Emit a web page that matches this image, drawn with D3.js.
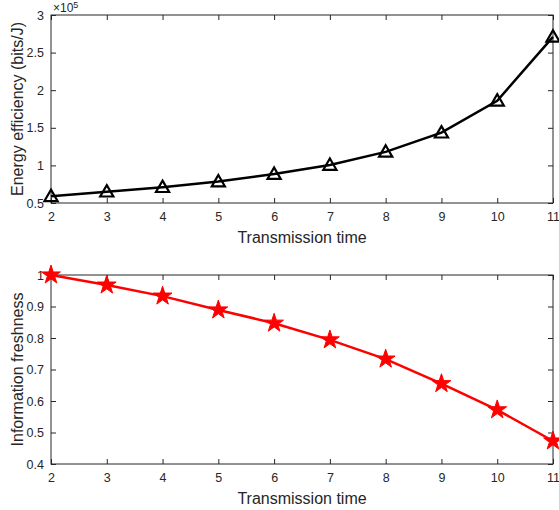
<!DOCTYPE html>
<html>
  <head>
    <script src="https://d3js.org/d3.v7.min.js"></script>
    <style>
      body { margin: 0; background: #fff; }
      svg { display: block; font-family: "Liberation Sans", Arial, sans-serif; }
      .tick text { fill: #262626; font-size: 12.5px; }
      .lbl { fill: #262626; font-size: 16px; }
    </style>
  </head>
  <body>
    <svg id="chart" width="559" height="510"></svg>
    <script>
      // data
      const times = [2, 3, 4, 5, 6, 7, 8, 9, 10, 11];
      const energy = [0.59, 0.65, 0.71, 0.785, 0.885, 1.005, 1.18, 1.435, 1.86, 2.71]; // x 1e5 bits/J
      const freshness = [1.0, 0.968, 0.933, 0.889, 0.847, 0.794, 0.733, 0.655, 0.572, 0.473];
      const energyTicks = [0.5, 1, 1.5, 2, 2.5, 3];
      const freshTicks = [0.4, 0.5, 0.6, 0.7, 0.8, 0.9, 1];

      const svg = d3.select("#chart");
      const axisColor = "#262626";

      const x = d3.scaleLinear([2, 11], [51, 553]);

      function panel({ top, bottom, yDomain, yTicks, values, yLabel, color, marker, fmt }) {
        const y = d3.scaleLinear(yDomain, [bottom, top]);
        const g = svg.append("g");

        // box
        g.append("rect")
          .attr("x", x.range()[0]).attr("y", top)
          .attr("width", x.range()[1] - x.range()[0]).attr("height", bottom - top)
          .attr("fill", "none").attr("stroke", axisColor).attr("stroke-width", 1);

        // ticks (inward, like matlab)
        const gx = g.append("g")
          .attr("transform", `translate(0,${bottom})`)
          .call(d3.axisBottom(x).tickValues(times).tickSize(-5).tickPadding(9).tickFormat(d3.format("d")));
        const gxTop = g.append("g")
          .attr("transform", `translate(0,${top})`)
          .call(d3.axisTop(x).tickValues(times).tickSize(-5).tickFormat(""));
        const gy = g.append("g")
          .attr("transform", `translate(${x.range()[0]},0)`)
          .call(d3.axisLeft(y).tickValues(yTicks).tickSize(-5).tickPadding(7).tickFormat(fmt));
        const gyR = g.append("g")
          .attr("transform", `translate(${x.range()[1]},0)`)
          .call(d3.axisRight(y).tickValues(yTicks).tickSize(-5).tickFormat(""));
        [gx, gxTop, gy, gyR].forEach(a => {
          a.select(".domain").remove();
          a.selectAll("line").attr("stroke", axisColor);
          a.selectAll("text").attr("font-family", null).attr("font-size", null);
        });

        // line
        const line = d3.line().x((d, i) => x(times[i])).y(d => y(d));
        g.append("path")
          .datum(values)
          .attr("d", line)
          .attr("fill", "none")
          .attr("stroke", color)
          .attr("stroke-width", 2.5);

        // markers
        const sym = d3.symbol().type(marker === "tri" ? d3.symbolTriangle : d3.symbolStar)
          .size(marker === "tri" ? 75 : 110);
        g.selectAll(".m")
          .data(values)
          .join("path")
          .attr("class", "m")
          .attr("transform", (d, i) => `translate(${x(times[i])},${y(d) + (marker === "tri" ? 1 : 0)})`)
          .attr("d", sym)
          .attr("fill", marker === "tri" ? "none" : color)
          .attr("stroke", color)
          .attr("stroke-width", marker === "tri" ? 2.2 : 1);

        // labels
        g.append("text")
          .attr("class", "lbl")
          .attr("x", (x.range()[0] + x.range()[1]) / 2)
          .attr("y", bottom + 40)
          .attr("text-anchor", "middle")
          .text("Transmission time");
        g.append("text")
          .attr("class", "lbl")
          .attr("transform", `translate(23,${(top + bottom) / 2}) rotate(-90)`)
          .attr("text-anchor", "middle")
          .text(yLabel);
        return g;
      }

      const g1 = panel({
        top: 15, bottom: 203, yDomain: [0.5, 3], yTicks: energyTicks, values: energy,
        yLabel: "Energy efficiency (bits/J)", color: "#000", marker: "tri", fmt: d3.format("")
      });
      // exponent label
      const ex = g1.append("text").attr("x", 53).attr("y", 12).attr("fill", axisColor).attr("font-size", 12);
      ex.append("tspan").text("\u00d710");
      ex.append("tspan").attr("dy", -4).attr("font-size", 9).text("5");

      panel({
        top: 275, bottom: 464, yDomain: [0.4, 1], yTicks: freshTicks, values: freshness,
        yLabel: "Information freshness", color: "#ff0000", marker: "star", fmt: d3.format("")
      });
    </script>
  </body>
</html>
